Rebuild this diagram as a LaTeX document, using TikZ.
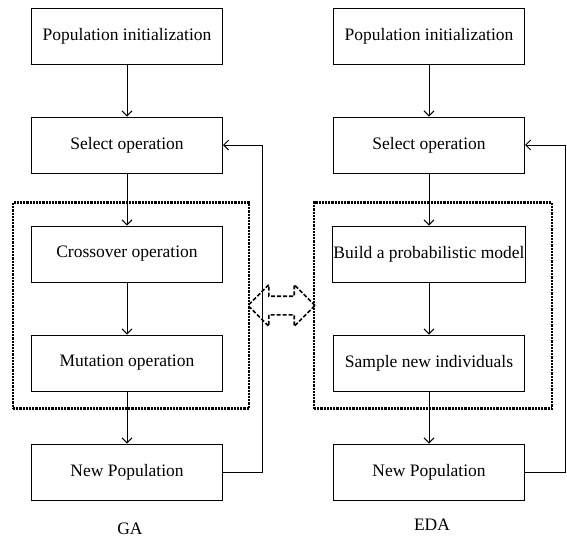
\documentclass[tikz,border=0pt]{standalone}
\usepackage{fontspec}
\setmainfont{Liberation Serif}
\usetikzlibrary{arrows.meta,positioning,shapes.arrows,fit,calc}
\begin{document}
\begin{tikzpicture}[x=1pt,y=-1pt,node distance=52pt and 110pt,line width=1pt,
box/.style={draw,minimum width=191pt,minimum height=56pt,inner sep=1pt,font=\fontsize{17.5}{20}\selectfont},
lbl/.style={font=\fontsize{17.5}{20}\selectfont},
arr/.style={-{Straight Barb[length=5pt,width=10pt]}},
dotbox/.style={draw,line width=2.2pt,dash pattern=on 2.2pt off 1pt,inner xsep=22pt,inner ysep=20pt,xshift=4pt,yshift=3pt},
swap/.style={draw,double arrow,line width=1.6pt,dash pattern=on 4pt off 2pt,minimum width=40pt,minimum height=67pt,double arrow head extend=11.5pt,inner xsep=0pt,inner ysep=8.5pt}]
\useasboundingbox (0,0) rectangle (567,542);
% GA
\node[box](pi1) at (127,36){Population initialization};
\node[box,below=of pi1](so1){Select operation};
\node[box,below=of so1](co1){Crossover operation};
\node[box,below=of co1](mo1){Mutation operation};
\node[box,below=of mo1](np1){New Population};
\node[lbl](ga) at (130,529){GA};
% EDA
\node[box,right=of pi1](pi2){Population initialization};
\node[box,below=of pi2](so2){Select operation};
\node[box,below=of so2](bm2){Build a probabilistic model};
\node[box,below=of bm2](sn2){Sample new individuals};
\node[box,below=of sn2](np2){New Population};
\node[lbl](eda) at (432,525){EDA};
\node[dotbox,fit=(co1)(mo1)](gabox){};
\node[dotbox,fit=(bm2)(sn2)](edabox){};
\node[swap](sw) at ($(gabox.east)!.5!(edabox.west)$){};
\draw[arr](pi1)--(so1);\draw[arr](so1)--(co1);\draw[arr](co1)--(mo1);\draw[arr](mo1)--(np1);
\draw[arr](pi2)--(so2);\draw[arr](so2)--(bm2);\draw[arr](bm2)--(sn2);\draw[arr](sn2)--(np2);
\draw[arr](np1.east)--++(39pt,0)|-(so1.east);
\draw[arr](np2.east)--++(40pt,0)|-(so2.east);
\end{tikzpicture}
\end{document}
